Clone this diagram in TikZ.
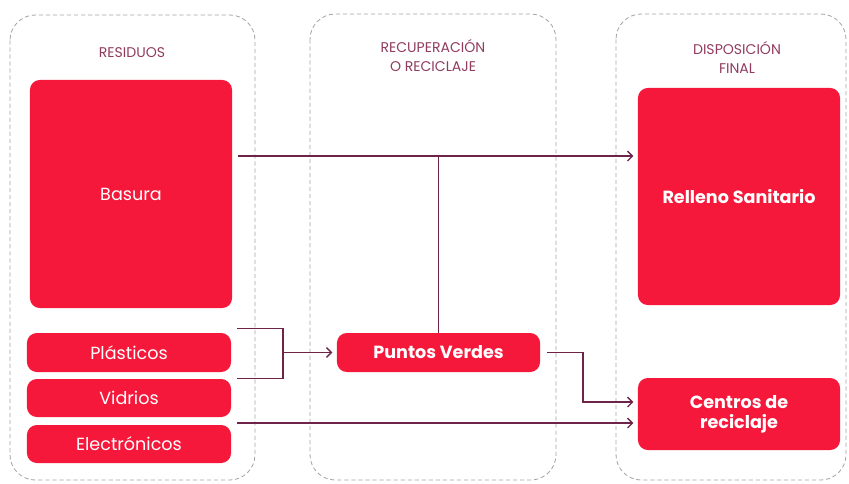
\documentclass[tikz,border=0pt]{standalone}
\usepackage{fontspec}
\setmainfont{Poppins}
\usetikzlibrary{arrows.meta}
\definecolor{rojo}{RGB}{245,24,58}
\definecolor{vino}{RGB}{110,36,72}
\definecolor{titulo}{RGB}{145,60,95}
\definecolor{marco}{RGB}{165,165,165}

\begin{document}
\begin{tikzpicture}[x=0.025cm, y=-0.025cm, >={Straight Barb[length=3.5pt,width=7pt]}]
  \tikzset{caja/.style={fill=rojo, text=white, rounded corners=7pt, inner sep=0pt, align=center, font=\fontsize{12.5}{14}\selectfont},
    negrita/.style={caja, font=\fontsize{12.5}{14}\selectfont\bfseries},
    zona/.style={draw=marco, dash pattern=on 3pt off 2pt, rounded corners=18pt, line width=0.6pt},
    titulo/.style={text=titulo, align=center, font=\fontsize{10}{13.5}\selectfont},
    linea/.style={draw=vino, line width=1pt},
    flecha/.style={linea, ->, shorten >=3pt}}
  \useasboundingbox (0,0) rectangle (849,483);
  \draw[zona] (10,15) rectangle (255,480);
  \draw[zona] (310,14) rectangle (556,480);
  \draw[zona] (616,14) rectangle (846,480);
  \node[titulo] (t-res) at (132,53) {RESIDUOS};
  \node[titulo] (t-rec) at (433,56) {RECUPERACIÓN\\O RECICLAJE};
  \node[titulo] (t-dis) at (737,57) {DISPOSICIÓN\\FINAL};
  \node[caja, minimum width=5.05cm, minimum height=5.7cm] (basura) at (131,194) {Basura};
  \node[caja, minimum width=5.1cm, minimum height=0.975cm] (plast) at (129,352.5) {Plásticos};
  \node[caja, minimum width=5.1cm, minimum height=0.95cm] (vidr) at (129,398) {Vidrios};
  \node[caja, minimum width=5.1cm, minimum height=0.95cm] (elec) at (129,444) {Electrónicos};
  \node[negrita, minimum width=5.075cm, minimum height=0.975cm] (pv) at (438.5,352.5) {Puntos Verdes};
  \node[negrita, minimum width=5.05cm, minimum height=5.425cm] (rell) at (739,196.5) {Relleno Sanitario};
  \node[negrita, minimum width=5.05cm, minimum height=1.8cm] (cent) at (739,414) {Centros de\\reciclaje};
  \coordinate (cruce) at (pv.north |- 0,156);
  \coordinate (brk) at (283,352.5);
  \coordinate (giro) at (583,402);
  \coordinate (e1) at ([shift={(6,-21)}]elec.east);
  \draw[flecha, shorten <=4pt] (basura.east |- cruce) -- (rell.west |- cruce);
  \draw[linea] (pv.north) -- (cruce);
  \draw[linea] ([shift={(6,-4)}]plast.north east) -| (brk) |- ([shift={(6,6)}]plast.south east);
  \draw[flecha] (brk) -- (pv.west);
  \draw[flecha, shorten <=5pt] (pv.east) -| (giro) -- (giro -| cent.west);
  \draw[flecha] (e1) -- (e1 -| cent.west);
\end{tikzpicture}
\end{document}
